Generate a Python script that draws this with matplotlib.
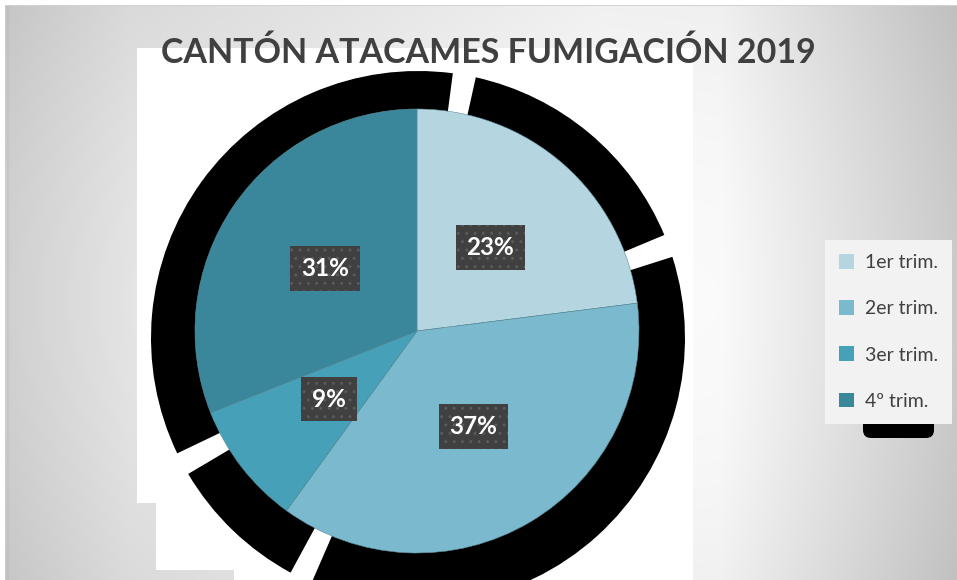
import numpy as np
import matplotlib
matplotlib.use("Agg")
import matplotlib.pyplot as plt
from matplotlib.patches import Wedge, Polygon, FancyBboxPatch

# ---- data ----
title = "CANTÓN ATACAMES FUMIGACIÓN 2019"
categories = ["1er trim.", "2er trim.", "3er trim.", "4º trim."]
values = [23, 37, 9, 31]
colors = ["#b5d5e0", "#7ab9ce", "#46a0b8", "#3a879b"]

W, H = 957, 580
fig = plt.figure(figsize=(W / 100, H / 100), dpi=100)
fig.patch.set_facecolor("white")
ax = fig.add_axes([0, 0, 1, 1])
ax.set_xlim(0, W)
ax.set_ylim(0, H)
ax.axis("off")


def Y(y):
    return H - y


# background gradient
xs = np.arange(W)
ys = np.arange(H)
prof = np.interp(xs, [5, 130, 600, 720, 957], [208, 228, 251, 250, 202])
vert = 10 * ((ys - 300) / 290.0) ** 2
g = (prof[None, :] - vert[:, None]) / 255.0
img = np.dstack([g, g, g])
img[:6, :, :] = 1.0
img[:, :5, :] = 1.0
img[5, 5:, :] = 0.82
img[6:, 7:9, :] *= 0.96
ax.imshow(img, extent=(0, W, 0, H), origin="upper", zorder=0, aspect="auto")

# white plot-area rectangle
wr = [(137, 48), (693, 48), (693, 580), (234, 580), (234, 570), (156, 570), (156, 503), (137, 503)]
white_poly = Polygon([(x, Y(y)) for x, y in wr], closed=True, facecolor="white", edgecolor="none", zorder=1)
ax.add_patch(white_poly)

# shadow glitch behind the pie (gaps slightly displaced from the slice boundaries)
total = float(sum(values))
cum = np.concatenate([[0], np.cumsum(values)]) / total
bounds = 90 - 360 * cum
gap_shift = [-10, 13, 10, 6.5, -10]
gap = 5
for i in range(len(values)):
    hi = bounds[i] + gap_shift[i]
    lo = bounds[i + 1] + gap_shift[i + 1]
    w = Wedge((418, Y(338)), 267, lo + gap / 2, hi - gap / 2,
              facecolor="black", edgecolor="none", zorder=2)
    ax.add_patch(w)
    w.set_clip_path(white_poly)

# pie
wedges, texts, autotexts = ax.pie(
    values, colors=colors, startangle=90, counterclock=False,
    center=(417, Y(331)), radius=222, autopct="%1.0f%%", pctdistance=0.5,
    wedgeprops=dict(edgecolor="#5d8f9c", linewidth=0.4, zorder=3),
    textprops=dict(color="white", fontsize=17.5, fontweight="bold", family="Lato"),
    frame=True,
)
for w in wedges:
    w.set_zorder(3)
for at in autotexts:
    at.set_zorder(5)
    at.set_bbox(dict(boxstyle="square,pad=0.45", facecolor="#404040", edgecolor="#5a5a5a",
                     linewidth=0, hatch=".."))
ax.set_xlim(0, W)
ax.set_ylim(0, H)
ax.axis("off")

# title (font size fitted to the reference width)
tt = ax.text(488, Y(53), title, ha="center", va="center", fontsize=25, fontweight="bold",
             color="#404040", family="Lato", zorder=6)
fig.canvas.draw()
bb = tt.get_window_extent()
tt.set_fontsize(25 * 655.0 / bb.width)

# legend shadow glitch + legend
ax.add_patch(FancyBboxPatch((863, Y(438)), 71, 30, boxstyle="round,pad=0,rounding_size=8",
                            facecolor="black", edgecolor="none", zorder=2))
leg = ax.legend(wedges, categories, loc="upper left",
                bbox_to_anchor=(825 / W, 1 - 240 / H), frameon=True, fancybox=False,
                facecolor="#f2f2f2", edgecolor="none", framealpha=1,
                prop=dict(family="Lato", size=14), labelcolor="#404040",
                handlelength=0.78, handleheight=0.78, handletextpad=0.55,
                labelspacing=1.5, borderpad=0.72, borderaxespad=0)
leg.set_zorder(6)
for h in leg.legend_handles:
    h.set_edgecolor("none")

fig.savefig("out.png", dpi=100)
